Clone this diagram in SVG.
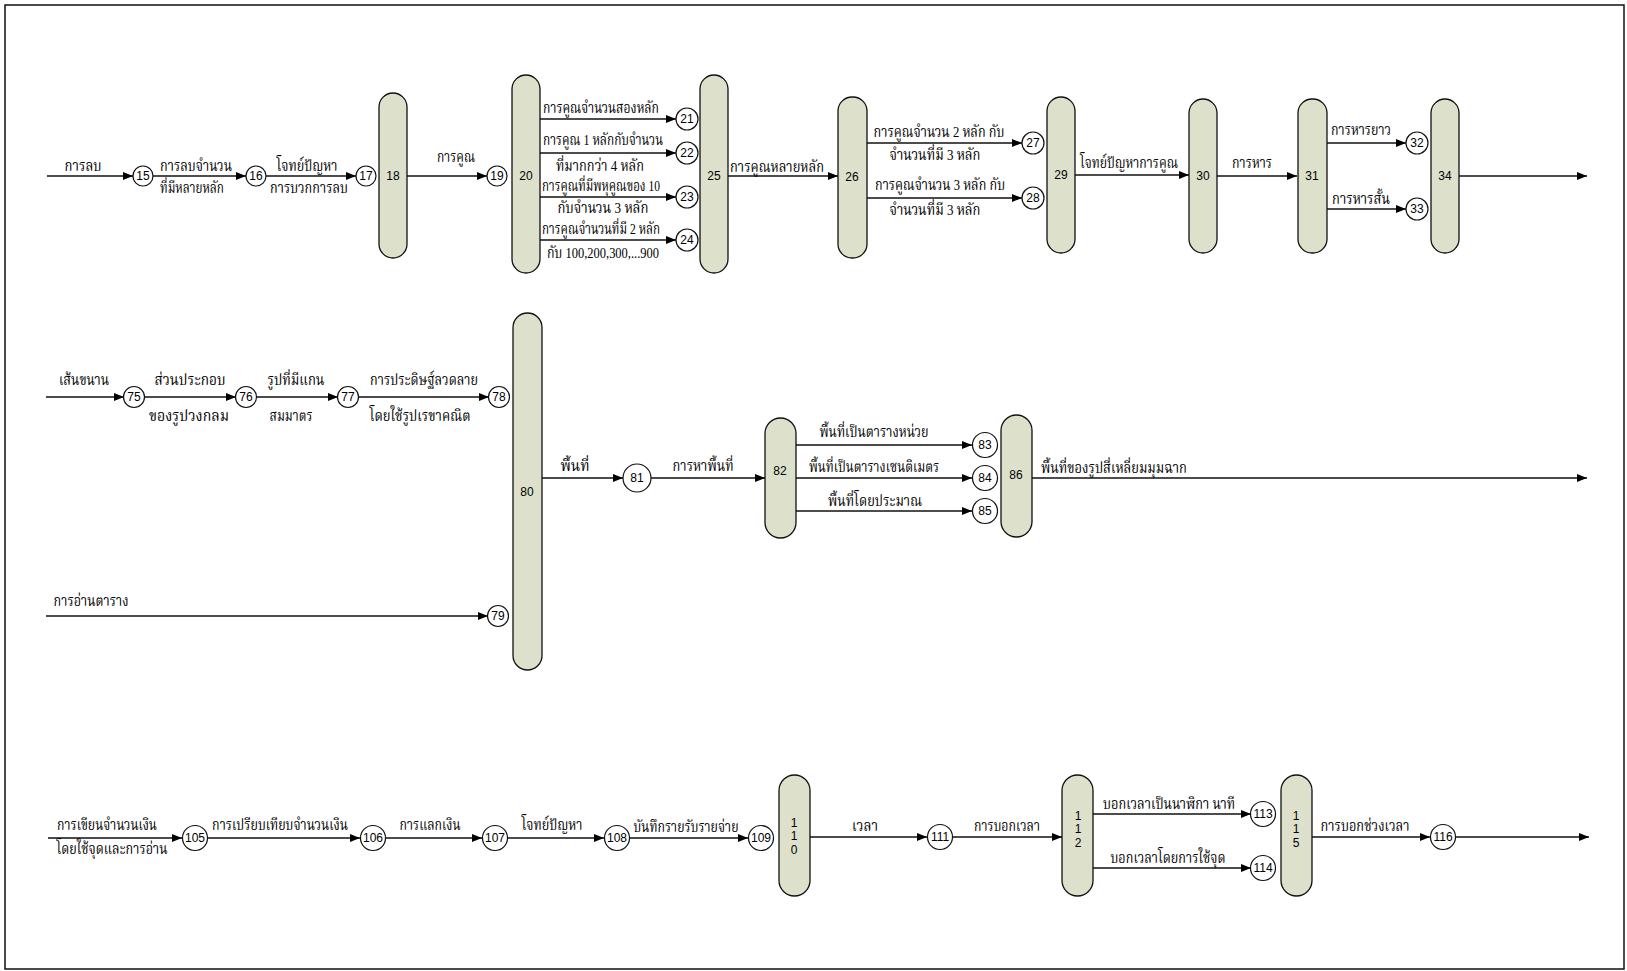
<svg xmlns="http://www.w3.org/2000/svg" width="1627" height="971" viewBox="0 0 1627 971">
<style>
.bar{fill:#dde0cb;stroke:#111;stroke-width:1.3}
.c{fill:#fff;stroke:#111;stroke-width:1.2}
.n{font-family:"Liberation Sans",Arial,sans-serif;font-size:12px;fill:#000;text-anchor:middle;dominant-baseline:central}
.t{font-family:"Liberation Serif","Noto Serif Thai","Noto Sans Thai","DejaVu Sans",serif;font-size:15px;fill:#000;text-anchor:middle;dominant-baseline:central}
.e{stroke:#111;stroke-width:1.3;fill:none;marker-end:url(#a)}
</style>
<defs>
<marker id="a" markerWidth="10" markerHeight="8" refX="10" refY="4" orient="auto" markerUnits="userSpaceOnUse">
<path d="M0,0 L10,4 L0,8 Z" fill="#000"/>
</marker>
</defs>
<rect x="5" y="5" width="1619" height="964" fill="#fff" stroke="#111" stroke-width="1.5"/>

<g id="connectors">
<line class="e" x1="47" y1="176" x2="133" y2="176"/>
<line class="e" x1="153" y1="176" x2="246" y2="176"/>
<line class="e" x1="266" y1="176" x2="356" y2="176"/>
<line class="e" x1="407" y1="176" x2="487" y2="176"/>
<line class="e" x1="540" y1="119" x2="676" y2="119"/>
<line class="e" x1="540" y1="153" x2="676" y2="153"/>
<line class="e" x1="540" y1="197" x2="676" y2="197"/>
<line class="e" x1="540" y1="240" x2="676" y2="240"/>
<line class="e" x1="728" y1="176" x2="838" y2="176"/>
<line class="e" x1="867" y1="143" x2="1022" y2="143"/>
<line class="e" x1="867" y1="198" x2="1022" y2="198"/>
<line class="e" x1="1075" y1="175" x2="1189" y2="175"/>
<line class="e" x1="1217" y1="176" x2="1297" y2="176"/>
<line class="e" x1="1327" y1="143" x2="1406" y2="143"/>
<line class="e" x1="1327" y1="209" x2="1406" y2="209"/>
<line class="e" x1="1459" y1="176" x2="1587" y2="176"/>

<line class="e" x1="46" y1="397" x2="124" y2="397"/>
<line class="e" x1="145" y1="397" x2="236" y2="397"/>
<line class="e" x1="257" y1="397" x2="338" y2="397"/>
<line class="e" x1="359" y1="397" x2="489" y2="397"/>
<line class="e" x1="46" y1="616" x2="488" y2="616"/>
<line class="e" x1="542" y1="478" x2="623" y2="478"/>
<line class="e" x1="651" y1="478" x2="765" y2="478"/>
<line class="e" x1="796" y1="445" x2="972" y2="445"/>
<line class="e" x1="796" y1="478" x2="972" y2="478"/>
<line class="e" x1="796" y1="511" x2="972" y2="511"/>
<line class="e" x1="1032" y1="478" x2="1587" y2="478"/>

<line class="e" x1="48" y1="838" x2="182" y2="838"/>
<line class="e" x1="208" y1="838" x2="360" y2="838"/>
<line class="e" x1="386" y1="838" x2="482" y2="838"/>
<line class="e" x1="508" y1="838" x2="604" y2="838"/>
<line class="e" x1="630" y1="838" x2="748" y2="838"/>
<line class="e" x1="810" y1="837" x2="927" y2="837"/>
<line class="e" x1="953" y1="837" x2="1062" y2="837"/>
<line class="e" x1="1093" y1="814" x2="1251" y2="814"/>
<line class="e" x1="1093" y1="868" x2="1251" y2="868"/>
<line class="e" x1="1312" y1="837" x2="1430" y2="837"/>
<line class="e" x1="1456" y1="837" x2="1589" y2="837"/>
</g>

<g id="labels">
<text class="t" x="83" y="166" textLength="37" lengthAdjust="spacingAndGlyphs">การลบ</text>
<text class="t" x="196" y="166" textLength="72" lengthAdjust="spacingAndGlyphs">การลบจำนวน</text>
<text class="t" x="192" y="188" textLength="64" lengthAdjust="spacingAndGlyphs">ที่มีหลายหลัก</text>
<text class="t" x="307" y="166" textLength="61" lengthAdjust="spacingAndGlyphs">โจทย์ปัญหา</text>
<text class="t" x="309" y="188" textLength="78" lengthAdjust="spacingAndGlyphs">การบวกการลบ</text>
<text class="t" x="456" y="157" textLength="38" lengthAdjust="spacingAndGlyphs">การคูณ</text>
<text class="t" x="601" y="108" textLength="116" lengthAdjust="spacingAndGlyphs">การคูณจำนวนสองหลัก</text>
<text class="t" x="603" y="140" textLength="120" lengthAdjust="spacingAndGlyphs">การคูณ 1 หลักกับจำนวน</text>
<text class="t" x="600" y="166" textLength="88" lengthAdjust="spacingAndGlyphs">ที่มากกว่า 4 หลัก</text>
<text class="t" x="601" y="186" textLength="118" lengthAdjust="spacingAndGlyphs">การคูณที่มีพหุคูณของ 10</text>
<text class="t" x="603" y="208" textLength="91" lengthAdjust="spacingAndGlyphs">กับจำนวน 3 หลัก</text>
<text class="t" x="601" y="229" textLength="118" lengthAdjust="spacingAndGlyphs">การคูณจำนวนที่มี 2 หลัก</text>
<text class="t" x="603" y="253" textLength="112" lengthAdjust="spacingAndGlyphs">กับ 100,200,300,...900</text>
<text class="t" x="777" y="167" textLength="94" lengthAdjust="spacingAndGlyphs">การคูณหลายหลัก</text>
<text class="t" x="939" y="132" textLength="131" lengthAdjust="spacingAndGlyphs">การคูณจำนวน 2 หลัก กับ</text>
<text class="t" x="935" y="155" textLength="91" lengthAdjust="spacingAndGlyphs">จำนวนที่มี 3 หลัก</text>
<text class="t" x="940" y="185" textLength="130" lengthAdjust="spacingAndGlyphs">การคูณจำนวน 3 หลัก กับ</text>
<text class="t" x="935" y="210" textLength="91" lengthAdjust="spacingAndGlyphs">จำนวนที่มี 3 หลัก</text>
<text class="t" x="1129" y="163" textLength="98" lengthAdjust="spacingAndGlyphs">โจทย์ปัญหาการคูณ</text>
<text class="t" x="1252" y="163" textLength="40" lengthAdjust="spacingAndGlyphs">การหาร</text>
<text class="t" x="1361" y="130" textLength="60" lengthAdjust="spacingAndGlyphs">การหารยาว</text>
<text class="t" x="1361" y="199" textLength="58" lengthAdjust="spacingAndGlyphs">การหารสั้น</text>

<text class="t" x="84" y="380" textLength="50" lengthAdjust="spacingAndGlyphs">เส้นขนาน</text>
<text class="t" x="190" y="380" textLength="71" lengthAdjust="spacingAndGlyphs">ส่วนประกอบ</text>
<text class="t" x="189" y="416" textLength="80" lengthAdjust="spacingAndGlyphs">ของรูปวงกลม</text>
<text class="t" x="296" y="380" textLength="57" lengthAdjust="spacingAndGlyphs">รูปที่มีแกน</text>
<text class="t" x="291" y="416" textLength="43" lengthAdjust="spacingAndGlyphs">สมมาตร</text>
<text class="t" x="424" y="380" textLength="108" lengthAdjust="spacingAndGlyphs">การประดิษฐ์ลวดลาย</text>
<text class="t" x="420" y="416" textLength="101" lengthAdjust="spacingAndGlyphs">โดยใช้รูปเรขาคณิต</text>
<text class="t" x="91" y="601" textLength="75" lengthAdjust="spacingAndGlyphs">การอ่านตาราง</text>
<text class="t" x="575" y="466" textLength="29" lengthAdjust="spacingAndGlyphs">พื้นที่</text>
<text class="t" x="703" y="466" textLength="61" lengthAdjust="spacingAndGlyphs">การหาพื้นที่</text>
<text class="t" x="874" y="432" textLength="109" lengthAdjust="spacingAndGlyphs">พื้นที่เป็นตารางหน่วย</text>
<text class="t" x="874" y="467" textLength="130" lengthAdjust="spacingAndGlyphs">พื้นที่เป็นตารางเซนติเมตร</text>
<text class="t" x="875" y="501" textLength="94" lengthAdjust="spacingAndGlyphs">พื้นที่โดยประมาณ</text>
<text class="t" x="1114" y="468" textLength="146" lengthAdjust="spacingAndGlyphs">พื้นที่ของรูปสี่เหลี่ยมมุมฉาก</text>

<text class="t" x="107" y="825" textLength="100" lengthAdjust="spacingAndGlyphs">การเขียนจำนวนเงิน</text>
<text class="t" x="112" y="849" textLength="111" lengthAdjust="spacingAndGlyphs">โดยใช้จุดและการอ่าน</text>
<text class="t" x="280" y="825" textLength="136" lengthAdjust="spacingAndGlyphs">การเปรียบเทียบจำนวนเงิน</text>
<text class="t" x="430" y="825" textLength="61" lengthAdjust="spacingAndGlyphs">การแลกเงิน</text>
<text class="t" x="552" y="825" textLength="61" lengthAdjust="spacingAndGlyphs">โจทย์ปัญหา</text>
<text class="t" x="686" y="827" textLength="105" lengthAdjust="spacingAndGlyphs">บันทึกรายรับรายจ่าย</text>
<text class="t" x="865" y="826" textLength="26" lengthAdjust="spacingAndGlyphs">เวลา</text>
<text class="t" x="1007" y="826" textLength="66" lengthAdjust="spacingAndGlyphs">การบอกเวลา</text>
<text class="t" x="1169" y="804" textLength="132" lengthAdjust="spacingAndGlyphs">บอกเวลาเป็นนาฬิกา นาที</text>
<text class="t" x="1168" y="858" textLength="115" lengthAdjust="spacingAndGlyphs">บอกเวลาโดยการใช้จุด</text>
<text class="t" x="1365" y="826" textLength="89" lengthAdjust="spacingAndGlyphs">การบอกช่วงเวลา</text>
</g>

<g id="n15"><circle class="c" cx="143" cy="176" r="10"/><text class="n" x="143" y="176">15</text></g>
<g id="n16"><circle class="c" cx="256" cy="176" r="10"/><text class="n" x="256" y="176">16</text></g>
<g id="n17"><circle class="c" cx="366" cy="176" r="10"/><text class="n" x="366" y="176">17</text></g>
<g id="n18"><rect class="bar" x="379" y="93" width="28" height="165" rx="14"/><text class="n" x="393" y="176">18</text></g>
<g id="n19"><circle class="c" cx="497" cy="176" r="10"/><text class="n" x="497" y="176">19</text></g>
<g id="n20"><rect class="bar" x="512" y="75" width="28" height="198" rx="14"/><text class="n" x="526" y="176">20</text></g>
<g id="n21"><circle class="c" cx="687" cy="119" r="11"/><text class="n" x="687" y="119">21</text></g>
<g id="n22"><circle class="c" cx="687" cy="153" r="11"/><text class="n" x="687" y="153">22</text></g>
<g id="n23"><circle class="c" cx="687" cy="197" r="11"/><text class="n" x="687" y="197">23</text></g>
<g id="n24"><circle class="c" cx="687" cy="240" r="11"/><text class="n" x="687" y="240">24</text></g>
<g id="n25"><rect class="bar" x="700" y="75" width="28" height="198" rx="14"/><text class="n" x="714" y="176">25</text></g>
<g id="n26"><rect class="bar" x="838" y="97" width="29" height="161" rx="14"/><text class="n" x="852" y="177">26</text></g>
<g id="n27"><circle class="c" cx="1033" cy="143" r="11"/><text class="n" x="1033" y="143">27</text></g>
<g id="n28"><circle class="c" cx="1033" cy="198" r="11"/><text class="n" x="1033" y="198">28</text></g>
<g id="n29"><rect class="bar" x="1047" y="97" width="28" height="156" rx="14"/><text class="n" x="1061" y="175">29</text></g>
<g id="n30"><rect class="bar" x="1189" y="99" width="28" height="154" rx="14"/><text class="n" x="1203" y="176">30</text></g>
<g id="n31"><rect class="bar" x="1298" y="99" width="29" height="154" rx="14"/><text class="n" x="1312" y="176">31</text></g>
<g id="n32"><circle class="c" cx="1417" cy="143" r="11"/><text class="n" x="1417" y="143">32</text></g>
<g id="n33"><circle class="c" cx="1417" cy="209" r="11"/><text class="n" x="1417" y="209">33</text></g>
<g id="n34"><rect class="bar" x="1431" y="99" width="28" height="154" rx="14"/><text class="n" x="1445" y="176">34</text></g>

<g id="n75"><circle class="c" cx="134" cy="397" r="10.5"/><text class="n" x="134" y="397">75</text></g>
<g id="n76"><circle class="c" cx="246" cy="397" r="10.5"/><text class="n" x="246" y="397">76</text></g>
<g id="n77"><circle class="c" cx="348" cy="397" r="10.5"/><text class="n" x="348" y="397">77</text></g>
<g id="n78"><circle class="c" cx="499" cy="397" r="10.5"/><text class="n" x="499" y="397">78</text></g>
<g id="n79"><circle class="c" cx="498" cy="616" r="10.5"/><text class="n" x="498" y="616">79</text></g>
<g id="n80"><rect class="bar" x="513" y="313" width="29" height="357" rx="14.5"/><text class="n" x="527" y="492">80</text></g>
<g id="n81"><circle class="c" cx="637" cy="478" r="14"/><text class="n" x="637" y="478">81</text></g>
<g id="n82"><rect class="bar" x="765" y="418" width="31" height="120" rx="15.5"/><text class="n" x="780" y="471">82</text></g>
<g id="n83"><circle class="c" cx="985" cy="445" r="12.5"/><text class="n" x="985" y="445">83</text></g>
<g id="n84"><circle class="c" cx="985" cy="478" r="12.5"/><text class="n" x="985" y="478">84</text></g>
<g id="n85"><circle class="c" cx="985" cy="511" r="12.5"/><text class="n" x="985" y="511">85</text></g>
<g id="n86"><rect class="bar" x="1001" y="415" width="31" height="122" rx="15.5"/><text class="n" x="1016" y="475">86</text></g>

<g id="n105"><circle class="c" cx="195" cy="838" r="12.5"/><text class="n" x="195" y="838" font-size="11">105</text></g>
<g id="n106"><circle class="c" cx="373" cy="838" r="12.5"/><text class="n" x="373" y="838" font-size="11">106</text></g>
<g id="n107"><circle class="c" cx="495" cy="838" r="12.5"/><text class="n" x="495" y="838" font-size="11">107</text></g>
<g id="n108"><circle class="c" cx="617" cy="838" r="12.5"/><text class="n" x="617" y="838" font-size="11">108</text></g>
<g id="n109"><circle class="c" cx="761" cy="838" r="12.5"/><text class="n" x="761" y="838" font-size="11">109</text></g>
<g id="n110"><rect class="bar" x="779" y="775" width="31" height="121" rx="15.5"/><text class="n" x="794" y="823">1</text><text class="n" x="794" y="836">1</text><text class="n" x="794" y="850">0</text></g>
<g id="n111"><circle class="c" cx="940" cy="837" r="12.5"/><text class="n" x="940" y="837" font-size="11">111</text></g>
<g id="n112"><rect class="bar" x="1062" y="775" width="31" height="121" rx="15.5"/><text class="n" x="1078" y="816">1</text><text class="n" x="1078" y="829">1</text><text class="n" x="1078" y="843">2</text></g>
<g id="n113"><circle class="c" cx="1263" cy="814" r="12.5"/><text class="n" x="1263" y="814" font-size="11">113</text></g>
<g id="n114"><circle class="c" cx="1263" cy="868" r="12.5"/><text class="n" x="1263" y="868" font-size="11">114</text></g>
<g id="n115"><rect class="bar" x="1281" y="775" width="31" height="121" rx="15.5"/><text class="n" x="1296" y="816">1</text><text class="n" x="1296" y="829">1</text><text class="n" x="1296" y="843">5</text></g>
<g id="n116"><circle class="c" cx="1443" cy="837" r="12.5"/><text class="n" x="1443" y="837" font-size="11">116</text></g>
</svg>
